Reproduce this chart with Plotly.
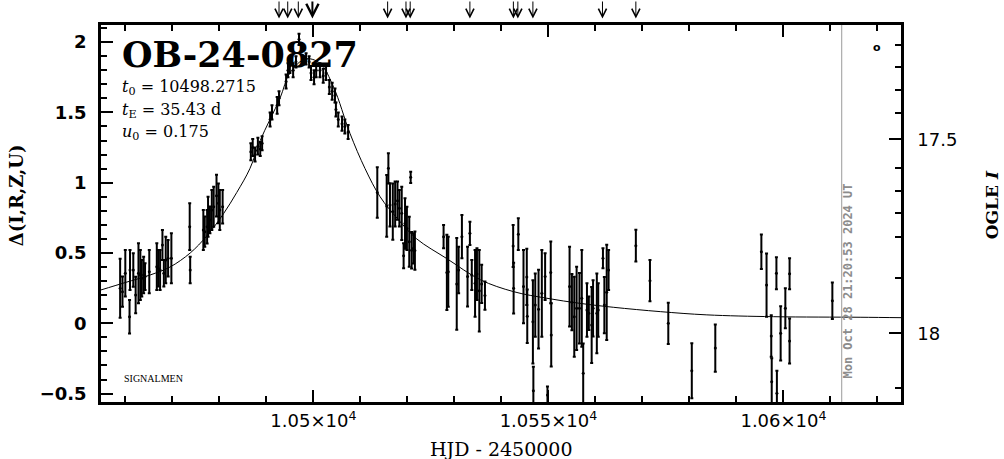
import plotly.graph_objects as go

# ---------------- data ----------------
hjd = [10458.9, 10459.4, 10460.0, 10460.9, 10461.0, 10461.7, 10462.2, 10462.8, 10463.2, 10463.5,
       10463.9, 10464.2, 10465.1, 10466.7, 10467.0, 10467.4, 10467.9, 10468.2, 10468.6, 10469.1,
       10469.8, 10473.7, 10473.8, 10476.6, 10476.9, 10477.4, 10477.6, 10478.0, 10478.4, 10478.8,
       10479.4, 10479.8, 10480.1, 10480.7,
       10486.7, 10487.1, 10487.6, 10488.2, 10488.7, 10489.1, 10490.8, 10491.2, 10492.3, 10492.7,
       10494.2, 10494.6, 10495.0, 10495.7, 10496.3, 10496.95, 10498.45, 10499.1, 10499.5, 10500.15,
       10500.6, 10501.4, 10502.1, 10502.7, 10503.4, 10504.0, 10504.6, 10504.8, 10505.3, 10506.1,
       10506.7, 10507.4,
       10513.6, 10515.6, 10515.96, 10516.3, 10516.9, 10517.4, 10517.9, 10518.3, 10518.8, 10519.2,
       10519.5, 10519.9, 10520.4, 10520.7, 10520.9, 10521.3, 10521.6,
       10527.7, 10528.4, 10528.7, 10530.5, 10530.9, 10531.6, 10532.8, 10533.3, 10533.7, 10534.4,
       10534.8, 10535.3, 10535.8, 10536.5,
       10542.5, 10542.6, 10543.6, 10544.7, 10545.4, 10545.5, 10546.7, 10546.8, 10547.2, 10547.9,
       10548.6, 10549.3, 10549.8, 10550.5, 10550.6,
       10554.5, 10555.0, 10555.5, 10556.0, 10556.6, 10557.1, 10557.4, 10558.2, 10558.6, 10559.2,
       10559.5, 10560.3, 10560.6, 10561.6, 10561.9, 10562.4, 10562.8,
       10568.6, 10571.6, 10575.5, 10580.5, 10585.5, 10595.3, 10596.4, 10597.4, 10597.5, 10598.5,
       10598.6, 10599.4, 10600.4, 10601.3, 10601.3, 10610.4]
delta = [0.25, 0.225, 0.356, 0.047, 0.379, 0.379, 0.201, 0.356, 0.344, 0.32,
         0.344, 0.332, 0.367, 0.403, 0.391, 0.379, 0.557, 0.356, 0.45, 0.462,
         0.462, 0.687, 0.379, 0.664, 0.652, 0.687, 0.758, 0.735, 0.806, 0.829,
         0.908, 0.853, 0.806, 0.829,
         1.22, 1.25, 1.20, 1.26, 1.24, 1.28, 1.45, 1.50, 1.55, 1.60,
         1.72, 1.80, 1.83, 1.80, 1.86, 2.02, 1.88, 1.86, 1.78, 1.75,
         1.80, 1.80, 1.76, 1.78, 1.68, 1.65, 1.62, 1.52, 1.45, 1.42,
         1.40, 1.36,
         0.93, 0.835, 1.102, 0.842, 0.795, 0.849, 0.872, 0.818, 0.782, 0.48,
         0.71, 0.675, 0.58, 1.038, 0.52, 0.533, 0.517,
         0.616, 0.362, 0.367, 0.28, 0.379, 0.616, 0.332, 0.64, 0.344, 0.284,
         0.35, 0.232, 0.28, 0.197,
         0.55, 0.25, 0.634, 0.261, 0.33, 0.05, 0.011, -0.479, 0.130, 0.10,
         0.213, 0.332, -0.51, 0.362, -0.083,
         0.261, 0.15, 0.047, 0.107, 0.107, 0.178, -0.356, 0.095, 0.071, -0.012,
         0.107, 0.071, 0.095, 0.462, 0.13, 0.22, 0.379,
         0.552, 0.303, 0.0, -0.337, -0.176, 0.509, 0.272, -0.09, -0.415, 0.356,
         -0.498, -0.071, 0.107, 0.353, -0.126, 0.161]
err = [0.21, 0.107, 0.166, 0.119, 0.142, 0.119, 0.13, 0.213, 0.178, 0.13,
       0.13, 0.095, 0.154, 0.166, 0.13, 0.142, 0.107, 0.095, 0.166, 0.13,
       0.178, 0.166, 0.095, 0.142, 0.107, 0.119, 0.142, 0.095, 0.142, 0.142,
       0.148, 0.142, 0.142, 0.119,
       0.06, 0.06, 0.05, 0.06, 0.05, 0.05, 0.05, 0.05, 0.06, 0.05,
       0.05, 0.05, 0.05, 0.05, 0.04, 0.04, 0.04, 0.04, 0.05, 0.05,
       0.05, 0.05, 0.05, 0.05, 0.05, 0.06, 0.05, 0.05, 0.05, 0.05,
       0.05, 0.05,
       0.18, 0.219, 0.107, 0.154, 0.2, 0.16, 0.136, 0.13, 0.19, 0.089,
       0.18, 0.154, 0.178, 0.04, 0.13, 0.107, 0.136,
       0.083, 0.267, 0.249, 0.326, 0.166, 0.154, 0.213, 0.083, 0.107, 0.237,
       0.184, 0.29, 0.136, 0.1,
       0.15, 0.18, 0.113, 0.26, 0.2, 0.19, 0.296, 0.17, 0.225, 0.28,
       0.308, 0.166, 0.06, 0.22, 0.225,
       0.284, 0.2, 0.284, 0.296, 0.25, 0.344, 0.213, 0.19, 0.119, 0.27,
       0.2, 0.284, 0.19, 0.071, 0.2, 0.338, 0.142,
       0.113, 0.147, 0.147, 0.196, 0.168, 0.123, 0.225, 0.148, 0.166, 0.114,
       0.16, 0.193, 0.142, 0.11, 0.16, 0.13]

# model curve
model_hjd = [10454.8, 10460.0, 10465.3, 10469.5, 10473.8, 10477.3, 10480.9, 10483.7, 10486.5, 10488.7,
             10492.9, 10495.0, 10498.3, 10501.4, 10504.3, 10507.8, 10511.0, 10514.2, 10518.0, 10522.0,
             10528.4, 10535.5, 10542.6, 10549.7, 10556.7, 10563.8, 10573.8, 10583.7, 10597.9, 10616.3,
             10625.0]
model_delta = [0.237, 0.29, 0.344, 0.40, 0.50, 0.62, 0.78, 0.93, 1.10, 1.30,
               1.60, 1.78, 1.88, 1.85, 1.68, 1.35, 1.10, 0.90, 0.74, 0.60,
               0.46, 0.31, 0.225, 0.178, 0.142, 0.114, 0.083, 0.06, 0.047, 0.043,
               0.04]

arrow_hjd = [10492.7, 10494.55, 10496.8, 10499.8, 10515.8, 10519.7, 10520.6, 10533.3,
             10542.55, 10543.5, 10546.7, 10561.5, 10568.6]
arrow_bold = [False, False, False, True, False, False, False, False,
              False, False, False, False, False]

now_hjd = 10612.39
now_text = "Mon Oct 28 21:20:53 2024 UT"

x_major = [10500, 10550, 10600]
x_major_text = ["1.05×10<sup>4</sup>", "1.055×10<sup>4</sup>", "1.06×10<sup>4</sup>"]
y_major = [-0.5, 0, 0.5, 1, 1.5, 2]
y_major_text = ["−0.5", "0", "0.5", "1", "1.5", "2"]
mag_major = [17.5, 18]
mag_major_text = ["17.5", "18"]
mag_minor = [17.257, 17.313, 17.373, 17.433, 17.575, 17.632, 17.691, 17.751, 17.858, 18.142]

event_name = "OB-24-0827"
params = ["<i>t</i><sub>0</sub> = 10498.2715",
          "<i>t</i><sub>E</sub> = 35.43 d",
          "<i>u</i><sub>0</sub> = 0.175"]

# ---------------- figure ----------------
SERIF = "DejaVu Serif"
fig = go.Figure()

fig.add_trace(go.Scatter(
    x=model_hjd, y=model_delta, mode="lines", line=dict(color="black", width=1, shape="spline"),
    hoverinfo="skip", showlegend=False))

fig.add_trace(go.Scatter(
    x=hjd, y=delta, mode="markers",
    marker=dict(color="black", size=3),
    error_y=dict(type="data", array=err, visible=True, color="black", thickness=2, width=1.5),
    showlegend=False))

# dummy trace to activate the magnitude axis
fig.add_trace(go.Scatter(x=[None], y=[None], yaxis="y2", showlegend=False))

# current time line
fig.add_shape(type="line", x0=now_hjd, x1=now_hjd, xref="x", y0=0, y1=1, yref="paper",
              line=dict(color="#9a9a9a", width=1))

annotations = []
for xv, b in zip(arrow_hjd, arrow_bold):
    annotations.append(dict(x=xv, xref="x", y=1.017, yref="paper", ax=0, ay=-19, text="",
                            showarrow=True, arrowhead=5, arrowsize=1.6 if not b else 1.2,
                            arrowwidth=2 if b else 1, arrowcolor="black"))

annotations.append(dict(x=0.024, y=0.922, xref="paper", yref="paper", text="<b>" + event_name + "</b>",
                        showarrow=False, xanchor="left", yanchor="middle",
                        font=dict(family=SERIF, size=35, color="black")))
for i, p in enumerate(params):
    annotations.append(dict(x=0.024, y=0.833 - i * 0.0585, xref="paper", yref="paper", text=p,
                            showarrow=False, xanchor="left", yanchor="middle",
                            font=dict(family=SERIF, size=16, color="black")))
annotations.append(dict(x=0.026, y=0.062, xref="paper", yref="paper", text="SIGNALMEN",
                        showarrow=False, xanchor="left", yanchor="middle",
                        font=dict(family="Liberation Serif", size=10, color="black")))
annotations.append(dict(x=0.934, y=0.32, xref="paper", yref="paper", text="<b>" + now_text + "</b>",
                        showarrow=False, textangle=-90, xanchor="center", yanchor="middle",
                        font=dict(family="DejaVu Sans Mono", size=12, color="#8c8c8c")))
annotations.append(dict(x=0.97, y=0.9416, xref="paper", yref="paper", text="<b>o</b>",
                        showarrow=False, xanchor="center", yanchor="middle",
                        font=dict(family="DejaVu Sans", size=11, color="black")))
annotations.append(dict(x=0.5, y=-0.124, xref="paper", yref="paper", text="HJD - 2450000",
                        showarrow=False, xanchor="center", yanchor="middle",
                        font=dict(family=SERIF, size=19, color="black")))
annotations.append(dict(x=-0.106, y=0.549, xref="paper", yref="paper", text="<b>Δ(I,R,Z,U)</b>",
                        showarrow=False, textangle=-90, xanchor="center", yanchor="middle",
                        font=dict(family=SERIF, size=18, color="black")))
annotations.append(dict(x=1.114, y=0.5225, xref="paper", yref="paper", text="<b>OGLE <i>I</i></b>",
                        showarrow=False, textangle=-90, xanchor="center", yanchor="middle",
                        font=dict(family=SERIF, size=17, color="black")))

fig.update_layout(
    width=1004, height=459,
    margin=dict(l=101, r=103, t=25, b=57),
    paper_bgcolor="white", plot_bgcolor="white",
    showlegend=False,
    annotations=annotations,
    xaxis=dict(range=[10454.83, 10625.0], showgrid=False, zeroline=False,
               showline=True, linecolor="black", linewidth=2.5, mirror="ticks",
               ticks="inside", ticklen=12, tickwidth=2, tickcolor="black",
               tickmode="array", tickvals=x_major, ticktext=x_major_text,
               tickfont=dict(family="DejaVu Sans", size=18, color="black"),
               ticklabelstandoff=1,
               minor=dict(ticks="inside", ticklen=6, tickwidth=2, tickcolor="black",
                          dtick=10, tick0=10500, showgrid=False)),
    yaxis=dict(range=[-0.5597, 2.1216], showgrid=False, zeroline=False,
               showline=True, linecolor="black", linewidth=2.5, mirror=False,
               ticks="inside", ticklen=12, tickwidth=2, tickcolor="black",
               tickmode="array", tickvals=y_major, ticktext=y_major_text,
               tickfont=dict(family="DejaVu Sans", size=18, color="black", weight="bold"),
               ticklabelstandoff=8,
               minor=dict(ticks="inside", ticklen=6, tickwidth=2, tickcolor="black",
                          dtick=0.1, tick0=0, showgrid=False)),
    yaxis2=dict(range=[18.177, 17.2054], overlaying="y", side="right", anchor="x",
                showgrid=False, zeroline=False,
                showline=True, linecolor="black", linewidth=2.5,
                ticks="inside", ticklen=12, tickwidth=2, tickcolor="black",
                tickmode="array", tickvals=mag_major, ticktext=mag_major_text,
                tickfont=dict(family="DejaVu Sans", size=18, color="black"),
                ticklabelstandoff=10,
                minor=dict(ticks="inside", ticklen=6, tickwidth=2, tickcolor="black",
                           tickmode="array", tickvals=mag_minor, showgrid=False)),
)

fig.write_html("out.html", config={"displayModeBar": False},
               post_script="document.body.style.margin='0';document.body.style.overflow='hidden';")
